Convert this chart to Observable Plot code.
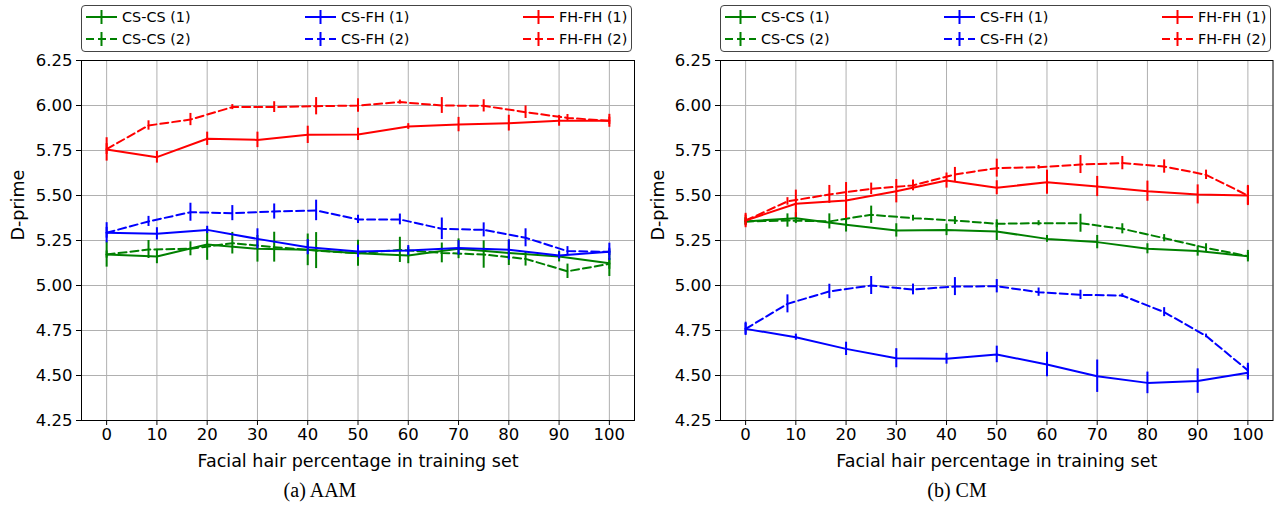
<!DOCTYPE html>
<html><head><meta charset="utf-8">
<script src="https://cdn.jsdelivr.net/npm/d3@7"></script>
<script src="https://cdn.jsdelivr.net/npm/@observablehq/plot@0.6"></script>
<style>
body{margin:0;background:#fff;width:1274px;height:505px;overflow:hidden;position:relative;font-family:"DejaVu Sans",sans-serif;color:#000;}
.plot{position:absolute;top:52px;}
.legend{position:absolute;top:5px;height:47px;border:1.3px solid #444;border-radius:4px;background:#fff;box-sizing:border-box;}
.item{position:absolute;display:flex;align-items:center;font-size:14.4px;line-height:18px;white-space:nowrap;}
.item svg{margin-right:5px;}
.caption{position:absolute;top:479px;font-family:"Liberation Serif","Times New Roman",serif;font-size:20px;text-align:center;}
</style></head><body>
<script>
// ---------- data ----------
const xs1 = [0, 10, 20, 30, 40, 50, 60, 70, 80, 90, 100];
const xs2 = [0, 8.33, 16.67, 25, 33.33, 41.67, 50, 58.33, 66.67, 75, 83.33, 91.67, 100];
const xTicks = [0, 10, 20, 30, 40, 50, 60, 70, 80, 90, 100];
const yTicks = [4.25, 4.5, 4.75, 5.0, 5.25, 5.5, 5.75, 6.0, 6.25];
const seriesNames = ["CS-CS (1)", "CS-CS (2)", "CS-FH (1)", "CS-FH (2)", "FH-FH (1)", "FH-FH (2)"];
const seriesColors = ["green", "green", "blue", "blue", "red", "red"];
const seriesDashed = [false, true, false, true, false, true];

// (a) AAM
const aamCsCs1 = [5.172, 5.161, 5.228, 5.204, 5.198, 5.179, 5.167, 5.204, 5.181, 5.161, 5.124];
const aamCsCs1Err = [0.07, 0.04, 0.088, 0.074, 0.088, 0.072, 0.046, 0.055, 0.07, 0.03, 0.074];
const aamCsCs2 = [5.172, 5.2, 5.204, 5.235, 5.213, 5.194, 5.179, 5.198, 5.181, 5.172, 5.148, 5.079, 5.12];
const aamCsCs2Err = [0.02, 0.05, 0.039, 0.06, 0.083, 0.1, 0.03, 0.07, 0.055, 0.076, 0.04, 0.04, 0.03];
const aamCsFh1 = [5.293, 5.287, 5.309, 5.259, 5.213, 5.189, 5.194, 5.209, 5.198, 5.167, 5.187];
const aamCsFh1Err = [0.056, 0.034, 0.02, 0.056, 0.042, 0.034, 0.028, 0.04, 0.056, 0.02, 0.048];
const aamCsFh2 = [5.293, 5.356, 5.407, 5.402, 5.411, 5.417, 5.367, 5.367, 5.315, 5.309, 5.265, 5.191, 5.187];
const aamCsFh2Err = [0.03, 0.028, 0.05, 0.042, 0.042, 0.057, 0.023, 0.03, 0.06, 0.039, 0.05, 0.025, 0.02];
const aamFhFh1 = [5.756, 5.713, 5.815, 5.809, 5.837, 5.839, 5.883, 5.894, 5.902, 5.915, 5.915];
const aamFhFh1Err = [0.065, 0.033, 0.037, 0.043, 0.048, 0.034, 0.016, 0.04, 0.044, 0.03, 0.036];
const aamFhFh2 = [5.758, 5.889, 5.922, 5.991, 5.991, 5.996, 6.0, 6.019, 6.0, 5.998, 5.963, 5.931, 5.915];
const aamFhFh2Err = [0.03, 0.026, 0.034, 0.014, 0.03, 0.048, 0.037, 0.011, 0.044, 0.034, 0.035, 0.019, 0.02];

// (b) CM
const cmCsCs1 = [5.356, 5.374, 5.337, 5.306, 5.309, 5.3, 5.259, 5.241, 5.204, 5.191, 5.163];
const cmCsCs1Err = [0.02, 0.03, 0.04, 0.037, 0.032, 0.05, 0.019, 0.037, 0.028, 0.028, 0.032];
const cmCsCs2 = [5.356, 5.361, 5.356, 5.393, 5.374, 5.361, 5.343, 5.346, 5.346, 5.315, 5.263, 5.209, 5.163];
const cmCsCs2Err = [0.02, 0.037, 0.042, 0.048, 0.016, 0.022, 0.022, 0.014, 0.05, 0.028, 0.02, 0.023, 0.02];
const cmCsFh1 = [4.759, 4.713, 4.648, 4.596, 4.593, 4.617, 4.561, 4.496, 4.459, 4.469, 4.515];
const cmCsFh1Err = [0.037, 0.017, 0.037, 0.053, 0.03, 0.046, 0.068, 0.09, 0.06, 0.068, 0.04];
const cmCsFh2 = [4.759, 4.898, 4.967, 5.0, 4.978, 4.994, 4.996, 4.963, 4.948, 4.944, 4.852, 4.72, 4.528];
const cmCsFh2Err = [0.03, 0.05, 0.04, 0.05, 0.03, 0.05, 0.037, 0.023, 0.026, 0.01, 0.025, 0.01, 0.04];
const cmFhFh1 = [5.361, 5.454, 5.472, 5.524, 5.583, 5.543, 5.574, 5.55, 5.524, 5.506, 5.5];
const cmFhFh1Err = [0.04, 0.076, 0.1, 0.065, 0.042, 0.039, 0.067, 0.056, 0.056, 0.053, 0.056];
const cmFhFh2 = [5.361, 5.467, 5.506, 5.537, 5.556, 5.617, 5.652, 5.657, 5.672, 5.68, 5.661, 5.615, 5.5];
const cmFhFh2Err = [0.03, 0.021, 0.05, 0.032, 0.03, 0.039, 0.05, 0.01, 0.05, 0.037, 0.037, 0.026, 0.05];

const xLabel = "Facial hair percentage in training set";
const yLabel = "D-prime";

// ---------- drawing ----------
function buildSeries(vals, errs) {
  return seriesNames.map((name, k) => {
    const xs = seriesDashed[k] ? xs2 : xs1;
    return {
      name, color: seriesColors[k], dashed: seriesDashed[k],
      rows: xs.map((x, i) => ({x, y: vals[k][i], lo: vals[k][i] - errs[k][i], hi: vals[k][i] + errs[k][i]}))
    };
  });
}

function makePlot(series, width, marginLeft, marginRight) {
  const marks = [
    Plot.gridX(xTicks, {stroke: "#b0b0b0", strokeOpacity: 1, strokeWidth: 1}),
    Plot.gridY(yTicks, {stroke: "#b0b0b0", strokeOpacity: 1, strokeWidth: 1})
  ];
  for (const s of series) {
    marks.push(Plot.line(s.rows, {x: "x", y: "y", stroke: s.color, strokeWidth: 2, strokeDasharray: s.dashed ? "8,4" : undefined}));
    marks.push(Plot.ruleX(s.rows, {x: "x", y1: "lo", y2: "hi", stroke: s.color, strokeWidth: 2}));
  }
  marks.push(Plot.frame({stroke: "black", strokeWidth: 1}));
  marks.push(Plot.axisX(xTicks, {tickSize: 5, tickPadding: 3, fontSize: 16.5, label: null, tickFormat: d => String(d)}));
  marks.push(Plot.axisY(yTicks, {tickSize: 5, tickPadding: 4, fontSize: 16.5, label: null, tickFormat: d3.format(".2f")}));
  marks.push(Plot.text([xLabel], {text: d => d, frameAnchor: "bottom", dy: 41, fontSize: 17.5, lineAnchor: "middle"}));
  marks.push(Plot.text([yLabel], {text: d => d, frameAnchor: "left", dx: -(marginLeft - 18), rotate: -90, fontSize: 17.5, lineAnchor: "middle"}));
  return Plot.plot({
    width, height: 453,
    marginTop: 8, marginBottom: 85, marginLeft, marginRight,
    x: {domain: [-5, 105]},
    y: {domain: [4.25, 6.25]},
    style: {fontFamily: "DejaVu Sans, sans-serif", fontSize: "16px", color: "black", background: "white", overflow: "visible"},
    marks
  });
}

function swatch(color, dashed) {
  const ns = "http://www.w3.org/2000/svg";
  const svg = document.createElementNS(ns, "svg");
  svg.setAttribute("width", 31); svg.setAttribute("height", 16);
  const l = document.createElementNS(ns, "line");
  l.setAttribute("x1", 0); l.setAttribute("x2", 31); l.setAttribute("y1", 8); l.setAttribute("y2", 8);
  l.setAttribute("stroke", color); l.setAttribute("stroke-width", 2);
  if (dashed) l.setAttribute("stroke-dasharray", "8,4");
  const v = document.createElementNS(ns, "line");
  v.setAttribute("x1", 15.5); v.setAttribute("x2", 15.5); v.setAttribute("y1", 1); v.setAttribute("y2", 15);
  v.setAttribute("stroke", color); v.setAttribute("stroke-width", 2);
  svg.appendChild(l); svg.appendChild(v);
  return svg;
}

const legendColOffsets = [4, 223, 441];
const legendRowOffsets = [2, 23.5];

function makeLegend(left, width) {
  const box = document.createElement("div");
  box.className = "legend";
  box.style.left = left + "px"; box.style.width = width + "px";
  for (let c = 0; c < 3; c++) {
    for (let r = 0; r < 2; r++) {
      const k = c * 2 + r;
      const it = document.createElement("div");
      it.className = "item";
      it.style.left = legendColOffsets[c] + "px";
      it.style.top = legendRowOffsets[r] + "px";
      it.appendChild(swatch(seriesColors[k], seriesDashed[k]));
      const t = document.createElement("span");
      t.textContent = seriesNames[k];
      it.appendChild(t);
      box.appendChild(it);
    }
  }
  document.body.appendChild(box);
}

function panel(left, width, marginLeft, marginRight, vals, errs, caption) {
  const wrap = document.createElement("div");
  wrap.className = "plot";
  wrap.style.left = left + "px";
  wrap.appendChild(makePlot(buildSeries(vals, errs), width, marginLeft, marginRight));
  document.body.appendChild(wrap);
  makeLegend(left + marginLeft, width - marginLeft - marginRight - 2);
  const cap = document.createElement("div");
  cap.className = "caption";
  cap.style.left = left + "px"; cap.style.width = (width) + "px";
  cap.textContent = caption;
  document.body.appendChild(cap);
}

panel(0, 640, 81, 6,
  [aamCsCs1, aamCsCs2, aamCsFh1, aamCsFh2, aamFhFh1, aamFhFh2],
  [aamCsCs1Err, aamCsCs2Err, aamCsFh1Err, aamCsFh2Err, aamFhFh1Err, aamFhFh2Err],
  "(a) AAM");
panel(640, 634, 80, 1.5,
  [cmCsCs1, cmCsCs2, cmCsFh1, cmCsFh2, cmFhFh1, cmFhFh2],
  [cmCsCs1Err, cmCsCs2Err, cmCsFh1Err, cmCsFh2Err, cmFhFh1Err, cmFhFh2Err],
  "(b) CM");
</script>
</body></html>
